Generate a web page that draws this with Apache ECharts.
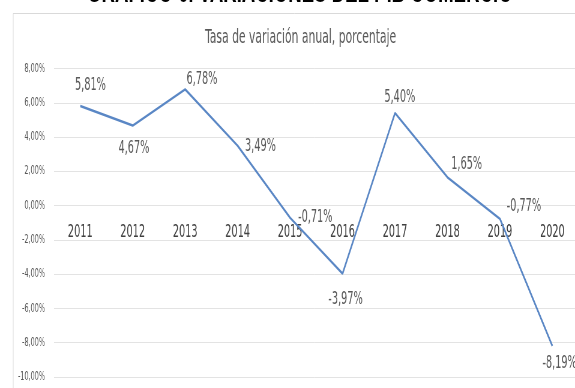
<!DOCTYPE html>
<html>
<head>
<meta charset="utf-8">
<script src="https://cdn.jsdelivr.net/npm/echarts@6/dist/echarts.min.js"></script>
<style>
    html, body { margin: 0; padding: 0; background: #fff; overflow: hidden; }
    /* the source picture is squeezed sideways, so draw wide and squeeze the same way */
    #chart { width: 958px; height: 388px; transform: scaleX(0.6002); transform-origin: 0 0; }
</style>
</head>
<body>
<div id="chart"></div>
<script>
(function () {
    'use strict';

    var years = ['2011', '2012', '2013', '2014', '2015', '2016', '2017', '2018', '2019', '2020'];
    var variacion = [5.81, 4.67, 6.78, 3.49, -0.71, -3.97, 5.40, 1.65, -0.77, -8.19];
    // label centre relative to its point, in unsqueezed px
    var labelOffsets = [[17, -21], [2, 23], [28, -10], [38, 1], [42, 0], [5, 26], [8, -16], [32, -13], [40, -12], [12, 17]];

    var font = '"DejaVu Sans Condensed", "DejaVu Sans", sans-serif';

    function pct(v) {
        return v.toFixed(2).replace('.', ',') + '%';
    }

    var seriesData = variacion.map(function (v, i) {
        return { value: v, label: { offset: labelOffsets[i] } };
    });

    var chart = echarts.init(document.getElementById('chart'));

    chart.setOption({
        backgroundColor: '#fff',
        animation: false,
        graphic: [
            {
                // heading of the page, mostly cut off above the picture
                type: 'text', left: 145, top: -22,
                style: {
                    text: 'GRÁFICO 6. VARIACIONES DEL PIB COMERCIO',
                    font: 'bold 31px "Liberation Sans", Arial, sans-serif',
                    fill: '#000'
                }
            },
            {
                type: 'rect', left: 19.5, top: 11, z: -1,
                shape: { width: 960, height: 400 },
                style: { fill: 'none', stroke: '#d9d9d9', lineWidth: 1 }
            }
        ],
        title: {
            text: 'Tasa de variación anual, porcentaje',
            left: 496,
            top: 23,
            textAlign: 'center',
            textStyle: { fontFamily: font, fontSize: 20, fontWeight: 'normal', color: '#595959' }
        },
        grid: { left: 90, right: -6, top: 68.5, bottom: 11, outerBoundsMode: 'none' },
        xAxis: {
            type: 'category',
            data: years,
            offset: -171.3,
            axisLine: { show: false, onZero: false },
            axisTick: { show: false },
            axisLabel: { margin: 18, fontFamily: font, fontSize: 18, color: '#404040' }
        },
        yAxis: {
            type: 'value',
            min: -10,
            max: 8,
            interval: 2,
            axisLine: { show: false },
            axisTick: { show: false },
            splitLine: { lineStyle: { color: '#e3e3e3' } },
            axisLabel: { margin: 15, fontFamily: font, fontSize: 12, color: '#595959', formatter: pct }
        },
        series: [{
            type: 'line',
            data: seriesData,
            symbol: 'circle',
            symbolSize: 0,
            lineStyle: { color: '#5a87c5', width: 2.5 },
            itemStyle: { color: '#5a87c5' },
            label: {
                show: true,
                position: 'inside',
                fontFamily: font,
                fontSize: 18,
                color: '#595959',
                formatter: function (p) { return pct(p.value); }
            }
        }]
    });
})();
</script>
</body>
</html>
